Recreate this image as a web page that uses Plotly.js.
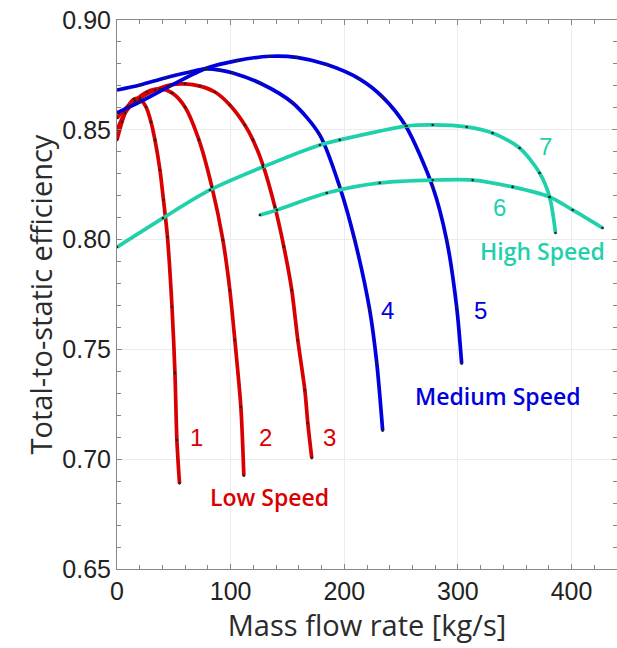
<!DOCTYPE html>
<html>
<head>
<meta charset="utf-8">
<script src="https://cdn.plot.ly/plotly-3.0.1.min.js"></script>
<style>html,body{margin:0;padding:0;background:#fff;}#chart{width:617px;height:648px;}</style>
</head>
<body>
<div id="chart"></div>
<script>
// Low speed curves
const c1x = [0, 4.4, 9.7, 14.9, 20.2, 25.5, 29.9, 33.4, 37.8, 40.9, 44.4, 48.4, 51.0, 52.7, 55.0];
const c1y = [0.8454, 0.8536, 0.8608, 0.8640, 0.8640, 0.8604, 0.8536, 0.8454, 0.8317, 0.8180, 0.8012, 0.7693, 0.7393, 0.7087, 0.6890];
const c2x = [0, 7.0, 15.8, 26.4, 37.8, 48.4, 59.8, 72.1, 83.5, 93.2, 99.3, 103.7, 109.0, 111.6];
const c2y = [0.8499, 0.8577, 0.8631, 0.8672, 0.8686, 0.8668, 0.8604, 0.8454, 0.8240, 0.7998, 0.7770, 0.7543, 0.7238, 0.6925];
const c3x = [0, 9.7, 20.2, 33.4, 46.6, 59.8, 73.0, 86.2, 99.3, 112.5, 119.6, 128.4, 138.9, 146.8, 153.8, 159.1, 165.3, 167.9, 171.4];
const c3y = [0.8554, 0.8608, 0.8645, 0.8681, 0.8704, 0.8709, 0.8699, 0.8672, 0.8613, 0.8522, 0.8454, 0.8340, 0.8150, 0.7968, 0.7770, 0.7543, 0.7315, 0.7165, 0.7005];
// Medium speed curves
const c4x = [0, 20.2, 42.2, 64.2, 77.4, 90.5, 102.0, 125.7, 154.7, 178.5, 196.0, 209.2, 222.4, 228.6, 233.8];
const c4y = [0.8681, 0.8704, 0.8736, 0.8763, 0.8777, 0.8772, 0.8759, 0.8713, 0.8622, 0.8476, 0.8240, 0.7998, 0.7679, 0.7438, 0.7130];
const c5x = [0, 20.2, 46.6, 79.1, 105.5, 134.5, 158.2, 184.6, 213.6, 233.8, 254.1, 277.8, 290.1, 298.9, 303.3];
const c5y = [0.8577, 0.8627, 0.8699, 0.8781, 0.8815, 0.8835, 0.8830, 0.8797, 0.8731, 0.8649, 0.8517, 0.8240, 0.7998, 0.7693, 0.7435];
// High speed curves
const c6x = [125.7, 140.7, 184.6, 231.2, 277.8, 313.0, 348.1, 380.7, 400.9, 427.3];
const c6y = [0.8112, 0.8135, 0.8212, 0.8258, 0.8271, 0.8271, 0.8240, 0.8194, 0.8135, 0.8053];
const c7x = [0, 40.4, 81.8, 128.4, 178.5, 196.0, 254.9, 277.8, 307.7, 330.5, 354.3, 371.9, 380.7, 385.9];
const c7y = [0.7966, 0.8098, 0.8226, 0.8331, 0.8431, 0.8454, 0.8517, 0.8522, 0.8513, 0.8485, 0.8417, 0.8303, 0.8194, 0.8030];

const yTicks = [0.65, 0.70, 0.75, 0.80, 0.85, 0.90];
const xTicks = [0, 100, 200, 300, 400];

const RED = '#d80000', BLUE = '#0000dc', TEAL = '#1fd1ab';

const curves = [
  {x: c1x, y: c1y, c: RED}, {x: c2x, y: c2y, c: RED}, {x: c3x, y: c3y, c: RED},
  {x: c4x, y: c4y, c: BLUE}, {x: c5x, y: c5y, c: BLUE},
  {x: c6x, y: c6y, c: TEAL}, {x: c7x, y: c7y, c: TEAL}
];

const traces = [];
curves.forEach(cv => {
  traces.push({x: cv.x, y: cv.y, mode: 'lines', type: 'scatter',
    line: {color: cv.c, width: 3.7, shape: 'spline', smoothing: 0.8}, hoverinfo: 'skip', showlegend: false});
});
curves.forEach(cv => {
  traces.push({x: cv.x, y: cv.y, mode: 'markers', type: 'scatter',
    marker: {color: '#222', size: 2.6}, hoverinfo: 'skip', showlegend: false});
});

const DIG = 'Arial, Liberation Sans';
const TXT = 'Open Sans';
const labels = [
  {t: '1', x: 70.3, y: 0.7101, c: RED, f: DIG, s: 24, w: 400},
  {t: '2', x: 131, y: 0.7101, c: RED, f: DIG, s: 24, w: 400},
  {t: '3', x: 187.3, y: 0.7101, c: RED, f: DIG, s: 24, w: 400},
  {t: 'Low Speed', x: 134.5, y: 0.6828, c: RED, f: TXT, s: 23, w: 600},
  {t: '4', x: 238.2, y: 0.7675, c: BLUE, f: DIG, s: 24, w: 400},
  {t: '5', x: 320, y: 0.7675, c: BLUE, f: DIG, s: 24, w: 400},
  {t: 'Medium Speed', x: 335, y: 0.7288, c: BLUE, f: TXT, s: 23, w: 600},
  {t: '7', x: 377.1, y: 0.8426, c: TEAL, f: DIG, s: 24, w: 400},
  {t: '6', x: 336.7, y: 0.8148, c: TEAL, f: DIG, s: 24, w: 400},
  {t: 'High Speed', x: 374.5, y: 0.7948, c: TEAL, f: TXT, s: 23, w: 600}
];

const layout = {
  width: 617, height: 648,
  margin: {l: 117, r: 0, t: 20, b: 79},
  paper_bgcolor: '#fff', plot_bgcolor: '#fff',
  showlegend: false,
  xaxis: {
    range: [0, 440], tickvals: xTicks, ticktext: xTicks.map(String),
    ticks: 'inside', ticklen: 5, tickcolor: '#888', showline: true, linecolor: '#888', linewidth: 1,
    mirror: 'ticks', showgrid: true, gridcolor: '#ececec', zeroline: false,
    minor: {dtick: 20, ticks: 'inside', ticklen: 4, tickcolor: '#888', showgrid: false},
    tickfont: {family: DIG, size: 25, color: '#222'},
    title: {text: 'Mass flow rate [kg/s]', font: {family: TXT, size: 29, color: '#2b2b2b', weight: 500}, standoff: 6}
  },
  yaxis: {
    range: [0.65, 0.90], tickvals: yTicks, ticktext: yTicks.map(v => v.toFixed(2)),
    ticks: 'inside', ticklen: 5, tickcolor: '#888', showline: true, linecolor: '#888', linewidth: 1,
    mirror: 'ticks', showgrid: true, gridcolor: '#ececec', zeroline: false,
    minor: {dtick: 0.01, ticks: 'inside', ticklen: 4, tickcolor: '#888', showgrid: false},
    tickfont: {family: DIG, size: 25, color: '#222'},
    title: {text: 'Total-to-static efficiency', font: {family: TXT, size: 29, color: '#2b2b2b', weight: 500}, standoff: 1}
  },
  annotations: labels.map(l => ({
    text: l.t, x: l.x, y: l.y, xref: 'x', yref: 'y', showarrow: false,
    font: {family: l.f, size: l.s, color: l.c, weight: l.w}, xanchor: 'center', yanchor: 'middle'
  }))
};

Plotly.newPlot('chart', traces, layout, {staticPlot: true, displayModeBar: false});
</script>
</body>
</html>
